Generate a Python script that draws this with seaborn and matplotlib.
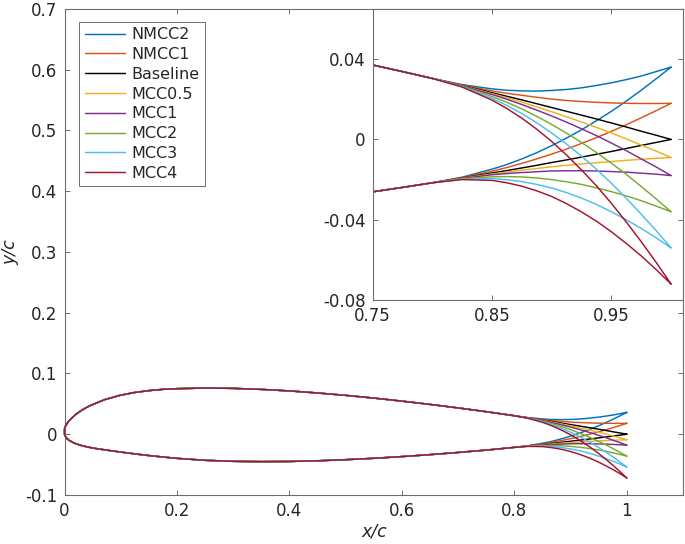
import matplotlib
matplotlib.use('Agg')
import matplotlib.pyplot as plt
import seaborn as sns

# Airfoil outline shared by all cases (leading part, x/c < 0.75)
front_upper_x = [0.7, 0.65, 0.6, 0.55, 0.5, 0.45, 0.4, 0.35, 0.3, 0.25, 0.2, 0.175, 0.15, 0.1237,
                 0.0971, 0.0705, 0.0443, 0.0315, 0.0192, 0.0076, 0.0016, 0.0002, 0.0, 0.0, 0.0]
front_upper_y = [0.0433, 0.0491, 0.0545, 0.0595, 0.0640, 0.0679, 0.0713, 0.0738, 0.0755, 0.0760, 0.0750, 0.0739, 0.0718, 0.0686,
                 0.0637, 0.0567, 0.0466, 0.0401, 0.0321, 0.0219, 0.0132, 0.0091, 0.0063, 0.0030, 0.0]
front_lower_x = [0.0012, 0.003, 0.005, 0.0084, 0.0174, 0.0308, 0.0435, 0.0557, 0.0795, 0.1029, 0.1263, 0.15, 0.175,
                 0.2, 0.25, 0.3, 0.35, 0.4, 0.45, 0.5, 0.55, 0.6, 0.65, 0.7]
front_lower_y = [-0.0029, -0.0056, -0.0076, -0.0102, -0.0147, -0.0188, -0.0215, -0.0235, -0.0268, -0.0297, -0.0325, -0.0351, -0.0375,
                 -0.0397, -0.0429, -0.0446, -0.0451, -0.0448, -0.0437, -0.0419, -0.0396, -0.0368, -0.0336, -0.0300]

# Trailing-edge part, one upper and one lower list per case
tail_x = [0.75, 0.775, 0.8, 0.825, 0.85, 0.8625, 0.875, 0.8875, 0.9, 0.9125, 0.925, 0.9375,
          0.95, 0.9625, 0.975, 0.9875, 1.0]

nmcc2_upper = [0.0371, 0.0338, 0.0304, 0.0273, 0.0252, 0.0245, 0.0242, 0.0241, 0.0244, 0.0249, 0.0257, 0.0269,
               0.0282, 0.0298, 0.0316, 0.0338, 0.0360]
nmcc2_lower = [-0.0261, -0.0239, -0.0216, -0.0188, -0.0148, -0.0125, -0.0097, -0.0066, -0.0031, 0.0007, 0.0048, 0.0093,
               0.0140, 0.0191, 0.0245, 0.0302, 0.0360]
nmcc1_upper = [0.0371, 0.0338, 0.0304, 0.0271, 0.0242, 0.0230, 0.0220, 0.0210, 0.0201, 0.0194, 0.0189, 0.0185,
               0.0182, 0.0180, 0.0179, 0.0179, 0.0180]
nmcc1_lower = [-0.0261, -0.0239, -0.0216, -0.0190, -0.0158, -0.0140, -0.0119, -0.0097, -0.0073, -0.0048, -0.0020, 0.0009,
               0.0040, 0.0073, 0.0108, 0.0143, 0.0180]
base_upper = [0.0371, 0.0338, 0.0304, 0.0269, 0.0233, 0.0215, 0.0197, 0.0178, 0.0159, 0.0140, 0.0121, 0.0102,
              0.0082, 0.0062, 0.0041, 0.0021, 0.0]
base_lower = [-0.0261, -0.0239, -0.0216, -0.0192, -0.0167, -0.0155, -0.0142, -0.0129, -0.0115, -0.0102, -0.0088, -0.0074,
              -0.0060, -0.0045, -0.0030, -0.0015, 0.0]
mcc05_upper = [0.0371, 0.0338, 0.0304, 0.0268, 0.0228, 0.0207, 0.0186, 0.0162, 0.0138, 0.0113, 0.0087, 0.0060,
               0.0032, 0.0003, -0.0028, -0.0058, -0.0090]
mcc05_lower = [-0.0261, -0.0239, -0.0216, -0.0193, -0.0172, -0.0163, -0.0153, -0.0145, -0.0136, -0.0129, -0.0122, -0.0116,
               -0.0110, -0.0104, -0.0099, -0.0094, -0.0090]
mcc1_upper = [0.0371, 0.0338, 0.0304, 0.0267, 0.0224, 0.0200, 0.0174, 0.0146, 0.0117, 0.0086, 0.0053, 0.0019,
              -0.0018, -0.0056, -0.0097, -0.0137, -0.0180]
mcc1_lower = [-0.0261, -0.0239, -0.0216, -0.0194, -0.0176, -0.0170, -0.0165, -0.0161, -0.0157, -0.0156, -0.0156, -0.0157,
              -0.0160, -0.0163, -0.0168, -0.0173, -0.0180]
mcc2_upper = [0.0371, 0.0338, 0.0304, 0.0265, 0.0214, 0.0185, 0.0152, 0.0115, 0.0075, 0.0031, -0.0015, -0.0065,
              -0.0118, -0.0174, -0.0234, -0.0296, -0.0360]
mcc2_lower = [-0.0261, -0.0239, -0.0216, -0.0196, -0.0186, -0.0185, -0.0187, -0.0192, -0.0200, -0.0211, -0.0224, -0.0241,
              -0.0260, -0.0281, -0.0305, -0.0332, -0.0360]
mcc3_upper = [0.0371, 0.0338, 0.0304, 0.0263, 0.0205, 0.0169, 0.0129, 0.0083, 0.0032, -0.0023, -0.0083, -0.0148,
              -0.0218, -0.0293, -0.0372, -0.0454, -0.0540]
mcc3_lower = [-0.0261, -0.0239, -0.0216, -0.0198, -0.0195, -0.0201, -0.0210, -0.0224, -0.0242, -0.0265, -0.0292, -0.0324,
              -0.0360, -0.0400, -0.0443, -0.0490, -0.0540]
mcc4_upper = [0.0371, 0.0338, 0.0304, 0.0261, 0.0196, 0.0154, 0.0106, 0.0051, -0.0010, -0.0078, -0.0152, -0.0231,
              -0.0318, -0.0411, -0.0509, -0.0612, -0.0720]
mcc4_lower = [-0.0261, -0.0239, -0.0216, -0.0200, -0.0204, -0.0216, -0.0233, -0.0256, -0.0284, -0.0320, -0.0361, -0.0407,
              -0.0460, -0.0518, -0.0580, -0.0648, -0.0720]

case_names = ['NMCC2', 'NMCC1', 'Baseline', 'MCC0.5', 'MCC1', 'MCC2', 'MCC3', 'MCC4']
case_colors = ['#0072BD', '#D95319', '#000000', '#EDB120', '#7E2F8E', '#77AC30', '#4DBEEE', '#A2142F']
upper_tails = [nmcc2_upper, nmcc1_upper, base_upper, mcc05_upper, mcc1_upper, mcc2_upper, mcc3_upper, mcc4_upper]
lower_tails = [nmcc2_lower, nmcc1_lower, base_lower, mcc05_lower, mcc1_lower, mcc2_lower, mcc3_lower, mcc4_lower]

sns.set_style('ticks')
plt.rcParams['font.family'] = ['DejaVu Sans']
plt.rcParams['axes.unicode_minus'] = False

AX_COLOR = '#6e6e6e'
TXT_COLOR = '#262626'

fig = plt.figure(figsize=(6.85, 5.44), dpi=100)
ax = fig.add_axes([0.0942, 0.0901, 0.903, 0.8934])
ins = fig.add_axes([0.544, 0.4485, 0.453, 0.535])

for name, color, up, lo in zip(case_names, case_colors, upper_tails, lower_tails):
    # closed outline: TE -> upper surface -> LE -> lower surface -> TE
    xs = tail_x[::-1] + front_upper_x + front_lower_x + tail_x
    ys = up[::-1] + front_upper_y + front_lower_y + lo
    sns.lineplot(x=xs, y=ys, ax=ax, color=color, linewidth=1.05, sort=False,
                 estimator=None, label=name, zorder=3, clip_on=False)
    sns.lineplot(x=xs, y=ys, ax=ins, color=color, linewidth=1.05, sort=False,
                 estimator=None, legend=False)

# main axes
ax.set_xlim(0, 1.1)
ax.set_ylim(-0.1, 0.7)
ax.set_xticks([0, 0.2, 0.4, 0.6, 0.8, 1.0])
ax.set_xticklabels(['0', '0.2', '0.4', '0.6', '0.8', '1'])
ax.set_yticks([-0.1, 0, 0.1, 0.2, 0.3, 0.4, 0.5, 0.6, 0.7])
ax.set_yticklabels(['-0.1', '0', '0.1', '0.2', '0.3', '0.4', '0.5', '0.6', '0.7'])
ax.set_xlabel('x/c', style='italic', fontsize=12.5, color=TXT_COLOR, labelpad=2)
ax.set_ylabel('y/c', style='italic', fontsize=12.5, color=TXT_COLOR, labelpad=4)

# inset
ins.set_xlim(0.75, 1.01)
ins.set_ylim(-0.08, 0.065)
ins.set_xticks([0.75, 0.85, 0.95])
ins.set_xticklabels(['0.75', '0.85', '0.95'])
ins.set_yticks([-0.08, -0.04, 0, 0.04])
ins.set_yticklabels(['-0.08', '-0.04', '0', '0.04'])
ins.set_xlabel('')
ins.set_ylabel('')
ins.set_facecolor('white')

for a in (ax, ins):
    a.tick_params(direction='in', top=True, right=True, length=3.5, width=0.7,
                  color=AX_COLOR, labelcolor=TXT_COLOR, labelsize=12, pad=5)
    for sp in a.spines.values():
        sp.set_visible(True)
        sp.set_color(AX_COLOR)
        sp.set_linewidth(0.8)

leg = ax.legend(loc='upper left', bbox_to_anchor=(0.0234, 0.974), borderaxespad=0,
                fontsize=11.5, frameon=True, fancybox=False, edgecolor=AX_COLOR,
                facecolor='white', framealpha=1, handlelength=2.5, handletextpad=0.4,
                labelspacing=0.30, borderpad=0.35)
leg.get_frame().set_linewidth(0.7)
leg.set_zorder(5)
for t in leg.get_texts():
    t.set_color(TXT_COLOR)

fig.savefig('out.png', dpi=100)
plt.close(fig)
